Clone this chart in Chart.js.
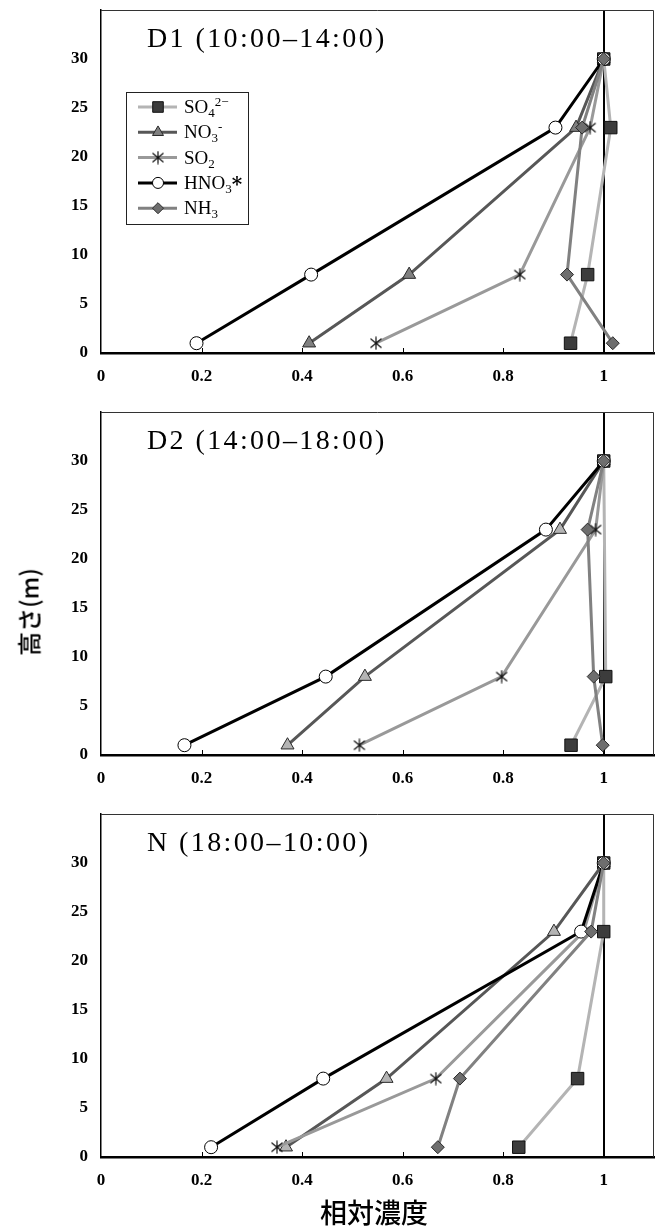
<!DOCTYPE html>
<html lang="ja">
<head>
<meta charset="UTF-8">
<title>相対濃度の高度分布</title>
<script src="https://cdn.jsdelivr.net/npm/chart.js"></script>
<style>
  body { margin: 0; background: #fff; }
  #wrap { position: relative; width: 655px; height: 1226px; overflow: hidden; }
  #wrap canvas { position: absolute; left: 0; }
  #ytitle { position: absolute; left: 28px; top: 612px; transform: translate(-50%, -50%) rotate(-90deg);
            font: 500 24px "Noto Sans CJK JP"; white-space: nowrap; color: #000; }
  #xtitle { position: absolute; left: 374px; top: 1211px; transform: translate(-50%, -50%);
            font: 500 27px "Noto Sans CJK JP"; white-space: nowrap; color: #000; }
</style>
</head>
<body>
<div id="wrap">
  <canvas id="c1" width="655" height="395" style="top:0px"></canvas>
  <canvas id="c2" width="655" height="395" style="top:402px"></canvas>
  <canvas id="c3" width="655" height="395" style="top:804px"></canvas>
  <div id="ytitle">高さ(m)</div>
  <div id="xtitle">相対濃度</div>
</div>
<script>
// heights (m) of the sampling levels
const heights = [1, 8, 23, 30];
const seriesNames = ['SO4', 'NO3', 'SO2', 'HNO3', 'NH3'];

// D1 (10:00-14:00)  relative concentration at each height
const d1SO4  = [0.934, 0.968, 1.014, 1.0];
const d1NO3  = [0.414, 0.613, 0.945, 1.0];
const d1SO2  = [0.547, 0.833, 0.973, 1.0];
const d1HNO3 = [0.190, 0.418, 0.904, 1.0];
const d1NH3  = [1.018, 0.927, 0.957, 1.0];

// D2 (14:00-18:00)
const d2SO4  = [0.935, 1.004, null, 1.0];
const d2NO3  = [0.371, 0.525, 0.913, 1.0];
const d2SO2  = [0.514, 0.797, 0.984, 1.0];
const d2HNO3 = [0.166, 0.447, 0.885, 1.0];
const d2NH3  = [0.998, 0.980, 0.968, 1.0];

// N (18:00-10:00)
const nSO4  = [0.831, 0.948, 1.0, 1.0];
const nNO3  = [0.368, 0.568, 0.901, 1.0];
const nSO2  = [0.350, 0.666, 0.960, 1.0];
const nHNO3 = [0.219, 0.442, 0.955, 1.0];
const nNH3  = [0.670, 0.714, 0.975, 1.0];

// legend text pieces: [text, '' | 'sub' | 'sup']
const legendLabels = [
  [['SO', ''], ['4', 'sub'], ['2\u2212', 'sup']],
  [['NO', ''], ['3', 'sub'], ['-', 'sup']],
  [['SO', ''], ['2', 'sub']],
  [['HNO', ''], ['3', 'sub'], ['*', 'bold']],
  [['NH', ''], ['3', 'sub']]
];

// asterisk marker for SO2
function makeStar() {
  const c = document.createElement('canvas');
  c.width = 14; c.height = 14;
  const g = c.getContext('2d');
  g.strokeStyle = '#111'; g.lineWidth = 1.2;
  g.beginPath();
  g.moveTo(7, 0.5); g.lineTo(7, 13.5);
  g.moveTo(1.5, 2.5); g.lineTo(12.5, 11.5);
  g.moveTo(12.5, 2.5); g.lineTo(1.5, 11.5);
  g.stroke();
  return c;
}
const star = makeStar();

const lineColors   = ['#b4b4b4', '#575757', '#999999', '#000000', '#818181'];
const markers      = ['rect', 'triangle', star, 'circle', 'rectRot'];
const markerFill   = ['#3c3c3c', '#808080', '#000000', '#ffffff', '#6e6e6e'];
const markerBorder = ['#111111', '#2a2a2a', '#000000', '#000000', '#2a2a2a'];
const radii        = [8.8, 7.5, 7, 6.5, 6.5];
const drawOrder    = [5, 4, 3, 2, 1];   // lower = drawn on top

const tickFont = { family: 'Liberation Serif', weight: 'bold', size: 17 };

// frame, inner x ticks and panel title
const framePlugin = {
  id: 'frame',
  afterDraw(chart, args, opts) {
    const { ctx, chartArea: a, scales } = chart;
    ctx.save();
    ctx.strokeStyle = '#333';
    ctx.lineWidth = 1;
    ctx.beginPath();
    ctx.moveTo(a.left, a.top + 0.5);
    ctx.lineTo(a.right - 0.5, a.top + 0.5);
    ctx.lineTo(a.right - 0.5, a.bottom);
    ctx.stroke();
    ctx.strokeStyle = '#000';
    scales.x.ticks.forEach(t => {
      if (t.value > 0.01 && t.value < 1.05) {
        const px = Math.round(scales.x.getPixelForValue(t.value)) + 0.5;
        ctx.beginPath();
        ctx.moveTo(px, a.bottom);
        ctx.lineTo(px, a.bottom - 5);
        ctx.stroke();
      }
    });
    ctx.fillStyle = '#000';
    ctx.font = '28px "Liberation Serif"';
    if ('letterSpacing' in ctx) ctx.letterSpacing = '2.4px';
    ctx.textBaseline = 'alphabetic';
    ctx.fillText(opts.text, a.left + 46, a.top + 37);
    ctx.restore();
  }
};

// legend box drawn inside the first panel
const legendBox = {
  id: 'legendBox',
  afterDraw(chart, args, opts) {
    if (!opts.show) return;
    const { ctx, chartArea: a } = chart;
    const x0 = a.left + 25, y0 = a.top + 82, w = 122, h = 132;
    ctx.save();
    ctx.strokeStyle = '#222';
    ctx.lineWidth = 1;
    ctx.strokeRect(x0 + 0.5, y0 + 0.5, w, h);
    chart.data.datasets.forEach((ds, i) => {
      const y = y0 + 15 + i * 25.3;
      ctx.strokeStyle = ds.borderColor;
      ctx.lineWidth = ds.borderWidth;
      ctx.beginPath();
      ctx.moveTo(x0 + 12, y);
      ctx.lineTo(x0 + 51, y);
      ctx.stroke();
      ctx.fillStyle = markerFill[i];
      ctx.strokeStyle = ds.pointBorderColor;
      ctx.lineWidth = 1;
      Chart.helpers.drawPoint(ctx, { pointStyle: ds.pointStyle, radius: ds.pointRadius * 0.85, rotation: 0, borderWidth: 1 }, x0 + 32, y);
      let tx = x0 + 58;
      ctx.fillStyle = '#000';
      ctx.textBaseline = 'alphabetic';
      legendLabels[i].forEach(([t, kind]) => {
        let dy = 6;
        if (kind === 'sub') { ctx.font = '13px "Liberation Serif"'; dy = 10; }
        else if (kind === 'sup') { ctx.font = '13px "Liberation Serif"'; dy = -1; }
        else if (kind === 'bold') { ctx.font = 'bold 20px "DejaVu Serif"'; dy = 8; }
        else { ctx.font = '19px "Liberation Serif"'; }
        ctx.fillText(t, tx, y + dy);
        tx += ctx.measureText(t).width;
      });
    });
    ctx.restore();
  }
};

function buildPanel(id, title, values, triFill, showLegend) {
  const datasets = values.map((vals, i) => ({
    label: seriesNames[i],
    data: heights.map((h, j) => ({ x: vals[j], y: h })),
    showLine: true,
    spanGaps: true,
    borderColor: lineColors[i],
    borderWidth: 3,
    pointStyle: markers[i],
    pointRadius: radii[i],
    pointBackgroundColor: i === 1 ? triFill : markerFill[i],
    pointBorderColor: markerBorder[i],
    pointBorderWidth: 1,
    order: drawOrder[i]
  }));
  return new Chart(document.getElementById(id), {
    type: 'scatter',
    data: { datasets },
    options: {
      responsive: false,
      animation: false,
      layout: { autoPadding: false, padding: { top: 10, right: 1, left: 0, bottom: 0 } },
      plugins: {
        legend: { display: false },
        tooltip: { enabled: false },
        frame: { text: title },
        legendBox: { show: showLegend }
      },
      scales: {
        x: {
          type: 'linear', min: 0, max: 1.1,
          ticks: {
            stepSize: 0.2, padding: 13, color: '#000', font: tickFont,
            maxRotation: 0, autoSkip: false,
            callback: v => v > 1.05 ? '' : String(Math.round(v * 10) / 10)
          },
          grid: {
            drawTicks: false, lineWidth: 2,
            color: c => (c.tick && Math.abs(c.tick.value - 1) < 1e-6) ? '#000' : 'rgba(0,0,0,0)'
          },
          border: { color: '#000', width: 2.5 },
          afterFit: s => { s.height = 42; s.paddingLeft = 0; s.paddingRight = 0; }
        },
        y: {
          type: 'linear', min: 0, max: 35,
          ticks: {
            stepSize: 5, padding: 13, color: '#000', font: tickFont,
            callback: v => v > 30 ? '' : String(v)
          },
          grid: { display: false, drawTicks: false },
          border: { color: '#000', width: 1.5 },
          afterFit: s => { s.width = 101; s.paddingTop = 0; s.paddingBottom = 0; }
        }
      }
    },
    plugins: [framePlugin, legendBox]
  });
}

buildPanel('c1', 'D1 (10:00\u201314:00)', [d1SO4, d1NO3, d1SO2, d1HNO3, d1NH3], '#808080', true);
buildPanel('c2', 'D2 (14:00\u201318:00)', [d2SO4, d2NO3, d2SO2, d2HNO3, d2NH3], '#b4b4b4', false);
buildPanel('c3', 'N (18:00\u201310:00)', [nSO4, nNO3, nSO2, nHNO3, nNH3], '#b4b4b4', false);
</script>
</body>
</html>
